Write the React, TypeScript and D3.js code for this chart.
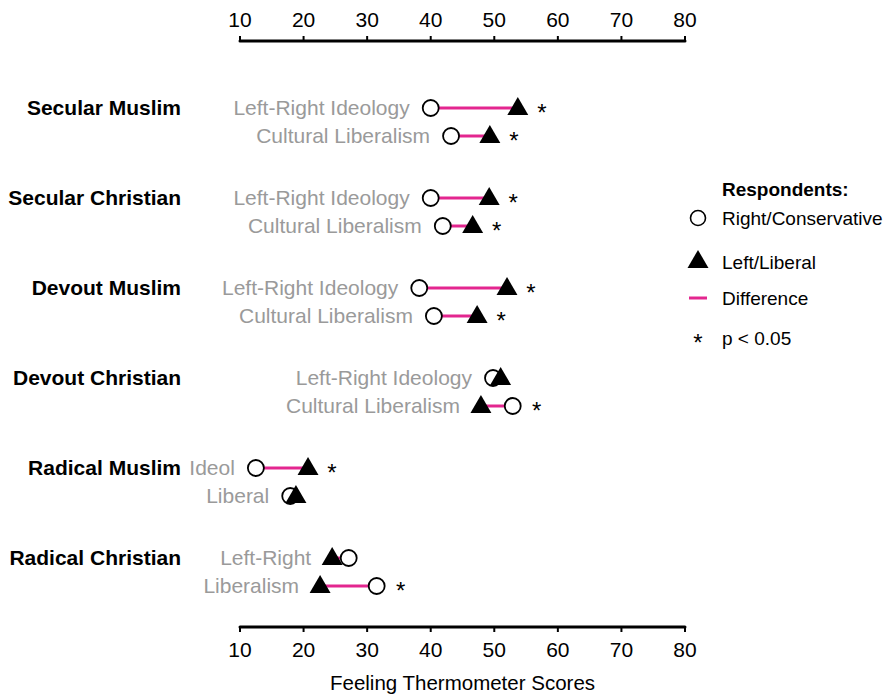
import React from "react";
import * as d3 from "d3";

const groups = ["Secular Muslim", "Secular Christian", "Devout Muslim", "Devout Christian", "Radical Muslim", "Radical Christian"];
const measureLabels = [
  ["Left-Right Ideology", "Cultural Liberalism"],
  ["Left-Right Ideology", "Cultural Liberalism"],
  ["Left-Right Ideology", "Cultural Liberalism"],
  ["Left-Right Ideology", "Cultural Liberalism"],
  ["Ideol", "Liberal"],
  ["Left-Right", "Liberalism"],
];
// [LR, CL] per group
const rightConservative = [[40.0, 43.2], [40.0, 41.9], [38.2, 40.5], [49.8, 52.9], [12.5, 17.9], [27.1, 31.5]];
const leftLiberal = [[53.7, 49.3], [49.2, 46.6], [52.0, 47.3], [51.0, 47.9], [20.7, 18.8], [24.5, 22.6]];
const significant = [[true, true], [true, true], [true, true], [false, true], [true, false], [false, true]];
const ticks = [10, 20, 30, 40, 50, 60, 70, 80];

const PINK = "#e3268f";
const GRAY = "#9a9a9a";
const FONT = "'Liberation Sans', Arial, Helvetica, sans-serif";

export default function App() {
  const x = d3.scaleLinear().domain([10, 80]).range([240, 685]);
  const groupY = d3.scalePoint<number>().domain(d3.range(groups.length)).range([108, 558]);
  const rowGap = 28;
  const tri = d3.symbol().type(d3.symbolTriangle).size(190)();
  const topY = 41;
  const botY = 627;

  return (
    <svg width={885} height={695} style={{ position: "absolute", left: 0, top: 0, background: "#fff" }} fontFamily={FONT}>
      {/* top axis */}
      <line x1={x(10)} x2={x(80)} y1={topY} y2={topY} stroke="#000" strokeWidth={3} strokeLinecap="round" />
      {ticks.map((t) => (
        <g key={"tt" + t}>
          <line x1={x(t)} x2={x(t)} y1={topY} y2={topY - 5} stroke="#000" strokeWidth={2} />
          <text x={x(t)} y={27} textAnchor="middle" fontSize={21}>{t}</text>
        </g>
      ))}
      {/* bottom axis */}
      <line x1={x(10)} x2={x(80)} y1={botY} y2={botY} stroke="#000" strokeWidth={3} strokeLinecap="round" />
      {ticks.map((t) => (
        <g key={"bt" + t}>
          <line x1={x(t)} x2={x(t)} y1={botY} y2={botY + 5} stroke="#000" strokeWidth={2} />
          <text x={x(t)} y={657} textAnchor="middle" fontSize={21}>{t}</text>
        </g>
      ))}
      <text x={x(45)} y={690} textAnchor="middle" fontSize={20.5}>Feeling Thermometer Scores</text>

      {groups.map((g, i) => {
        const y0 = groupY(i)!;
        return (
          <g key={g}>
            <text x={181} y={y0 + 7} textAnchor="end" fontSize={21} fontWeight="bold">{g}</text>
            {[0, 1].map((j) => {
              const y = y0 + j * rowGap;
              const rc = rightConservative[i][j];
              const ll = leftLiberal[i][j];
              const lo = Math.min(rc, ll);
              const hi = Math.max(rc, ll);
              return (
                <g key={j}>
                  <text x={x(lo) - 21} y={y + 7} textAnchor="end" fontSize={21} fill={GRAY}>{measureLabels[i][j]}</text>
                  <line x1={x(rc)} x2={x(ll)} y1={y} y2={y} stroke={PINK} strokeWidth={3} />
                  <circle cx={x(rc)} cy={y} r={8} fill="#fff" stroke="#000" strokeWidth={1.8} />
                  <path d={tri!} transform={`translate(${x(ll)},${y + 1})`} fill="#000" />
                  {significant[i][j] && (
                    <text x={x(hi) + 24} y={y + 13} textAnchor="middle" fontSize={24}>*</text>
                  )}
                </g>
              );
            })}
          </g>
        );
      })}

      {/* legend */}
      <text x={722} y={196} fontSize={19} fontWeight="bold">Respondents:</text>
      <circle cx={698} cy={218} r={7.5} fill="#fff" stroke="#000" strokeWidth={1.6} />
      <text x={722} y={225} fontSize={19}>Right/Conservative</text>
      <path d={tri!} transform={`translate(698,262)`} fill="#000" />
      <text x={722} y={269} fontSize={19}>Left/Liberal</text>
      <line x1={689} x2={707} y1={298} y2={298} stroke={PINK} strokeWidth={3} />
      <text x={722} y={305} fontSize={19}>Difference</text>
      <text x={698} y={351} textAnchor="middle" fontSize={24}>*</text>
      <text x={722} y={345} fontSize={19}>p &lt; 0.05</text>
    </svg>
  );
}
